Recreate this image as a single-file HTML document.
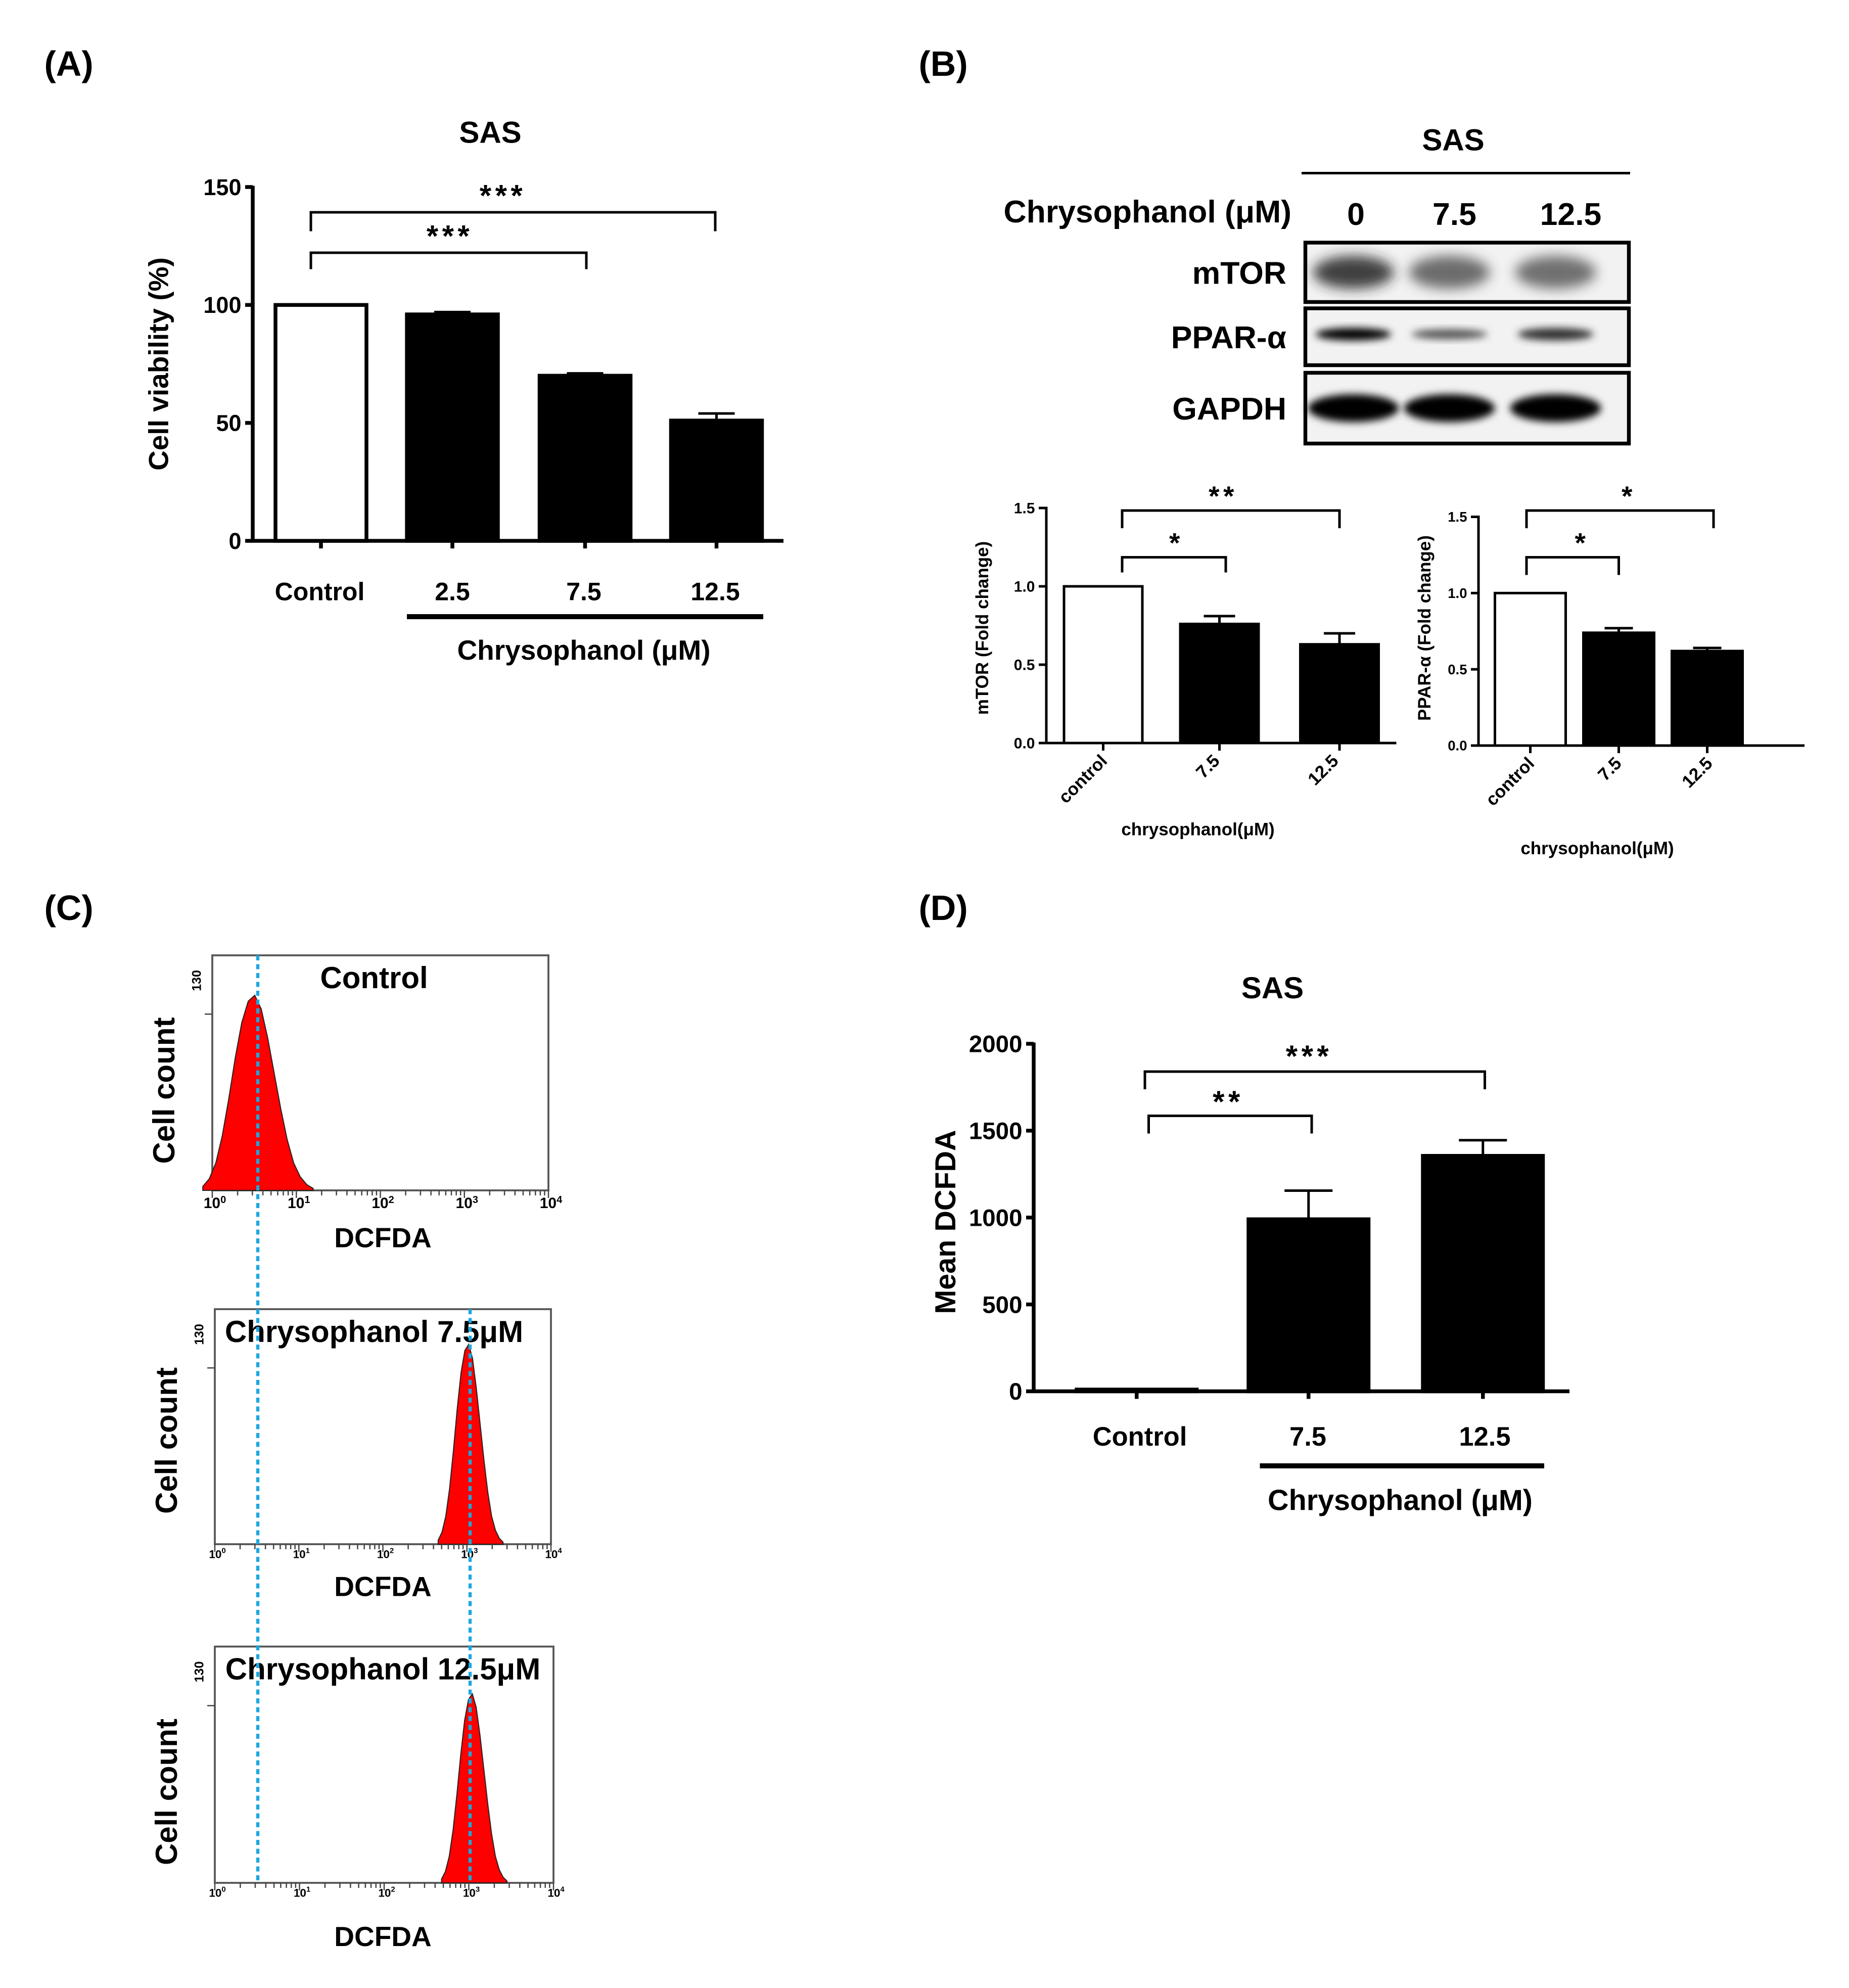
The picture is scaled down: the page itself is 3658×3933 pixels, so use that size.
<!DOCTYPE html>
<html><head><meta charset="utf-8"><style>
html,body{margin:0;padding:0;background:#fff;}
svg{display:block;}
text{font-family:"Liberation Sans",sans-serif;font-weight:bold;fill:#000;}
</style></head><body>
<svg id="fig" width="3658" height="3933" viewBox="0 0 1463.2 1573.2" xmlns="http://www.w3.org/2000/svg">
<defs>
<filter id="blur3" x="-20%" y="-50%" width="140%" height="200%"><feGaussianBlur stdDeviation="3"/></filter>
<filter id="blur5" x="-20%" y="-50%" width="140%" height="200%"><feGaussianBlur stdDeviation="5"/></filter>
</defs>
<g id="root"></g>
</svg>
<script>
// ---- Data ----
const aCategories = ["Control","2.5","7.5","12.5"];
const aValues = [100, 96, 70, 51];
const aErrors = [0, 1, 1, 3];
const aTicks = [0,50,100,150];

const mtorCategories = ["control","7.5","12.5"];
const mtorValues = [1.0, 0.76, 0.63];
const mtorErrors = [0, 0.05, 0.07];
const pparCategories = ["control","7.5","12.5"];
const pparValues = [1.0, 0.74, 0.62];
const pparErrors = [0, 0.03, 0.02];
const foldTicks = [0.0,0.5,1.0,1.5];

const dCategories = ["Control","7.5","12.5"];
const dValues = [10, 990, 1355];
const dErrors = [0, 165, 90];
const dTicks = [0,500,1000,1500,2000];

const histTitles = ["Control","Chrysophanol 7.5\u03bcM","Chrysophanol 12.5\u03bcM"];
const histPeaks = [3.2, 1050, 1100];
const histSpread = [0.17, 0.1, 0.1];
const histHeights = [0.83, 0.85, 0.80];
const histShape = [0.02,0.06,0.14,0.28,0.47,0.68,0.86,0.97,1.0,0.93,0.78,0.6,0.42,0.26,0.14,0.07,0.03,0.01];

const NS="http://www.w3.org/2000/svg";
const root=document.getElementById('root');
function mk(tag,attrs,parent){const e=document.createElementNS(NS,tag);for(const k in attrs)e.setAttribute(k,attrs[k]);(parent||root).appendChild(e);return e;}
function txt(s,x,y,size,anchor,parent,rot){const t=mk('text',{x:x,y:y,'font-size':size,'text-anchor':anchor||'middle'},parent);if(rot!==undefined)t.setAttribute('transform','rotate('+rot+' '+x+' '+y+')');t.textContent=s;return t;}
function line(x1,y1,x2,y2,w,parent,col){return mk('line',{x1:x1,y1:y1,x2:x2,y2:y2,stroke:col||'#000','stroke-width':w||2},parent);}
function bracket(x1,x2,y,drop,stars,sx,sy,size,parent){const g=mk('g',{},parent);


mk('path',{d:`M${x1} ${y+drop}V${y}H${x2}V${y+drop}`,fill:'none',stroke:'#000','stroke-width':2},g);
const t=txt(stars,sx,sy,size,'middle',g);t.setAttribute('letter-spacing','3');}

// panel labels
[["(A)",35,60],["(B)",727,60],["(C)",35,728],["(D)",727,728]].forEach(p=>{const t=txt(p[0],p[1],p[2],28,'start');

});

// generic bar chart
function barChart(o){
 const g=mk('g',{});
 
 
 const ys=v=>o.y0-(v-o.min)/(o.max-o.min)*(o.y0-o.y1);
 line(o.x0,o.y1-1,o.x0,o.y0,o.aw,g);
 line(o.x0,o.y0,o.xe,o.y0,o.aw,g);
 o.ticks.forEach(t=>{line(o.x0-6,ys(t),o.x0,ys(t),o.aw,g);const tl=txt(o.fmt(t),o.x0-9,ys(t)+o.ts*0.35,o.ts,'end',g);
 
 });
 o.vals.forEach((v,i)=>{const x=o.bx[i];const top=ys(v);
  if(o.errs[i]>0){const ey=ys(v+o.errs[i]);line(x+o.bw/2,ey,x+o.bw/2,top,2,g);line(x+o.bw*0.3,ey,x+o.bw*0.7,ey,2,g);}
  const r=mk('rect',{x:x,y:top,width:o.bw,height:Math.max(o.y0-top,1),fill:i==0?'#fff':'#000',stroke:'#000','stroke-width':o.aw},g);
  
  
  line(x+o.bw/2,o.y0,x+o.bw/2,o.y0+6,o.aw,g);
 });
 return {g:g,ys:ys};
}

// Panel A
txt("SAS",388,113,24);
const A=barChart({name:'cell-viability-chart',x0:200,xe:620,y0:428,y1:148,min:0,max:150,ticks:aTicks,fmt:t=>String(t),ts:18,aw:3,
 vals:aValues,errs:aErrors,cats:aCategories,bx:[218,322,427,531],bw:72});
aCategories.forEach((c,i)=>txt(c,[253,358,462,566][i],475,20,'middle',A.g));
line(322,488,604,488,4,A.g);
txt("Chrysophanol (\u03bcM)",462,522,22,'middle',A.g);
const ay=txt("Cell viability (%)",133,288,22,'middle',A.g,-90);


bracket(246,566,168,15,"***",398,163,24,A.g);
bracket(246,464,200,13,"***",356,195,24,A.g);

// Panel B blot
const bg=mk('g',{});


txt("SAS",1150,119,24,'middle',bg);
line(1030,137,1290,137,2,bg);
txt("Chrysophanol (\u03bcM)",1022,176,25,'end',bg);
[["0",1073],["7.5",1151],["12.5",1243]].forEach(p=>txt(p[0],p[1],178,25,'middle',bg));
const blots=[["mTOR",192,239],["PPAR-\u03b1",244,289],["GAPDH",295,351]];
blots.forEach((b,k)=>{
 const bb=mk('g',{},bg);
 
 
 txt(b[0],1018,(b[1]+b[2])/2+9,25,'end',bb);
 mk('rect',{x:1033,y:b[1],width:256,height:b[2]-b[1],fill:'#f2f2f2',stroke:'#000','stroke-width':3},bb);
 const cy=(b[1]+b[2])/2;
 const lanes=[1071,1147,1231];
 lanes.forEach((cx,i)=>{
  if(k==0){mk('ellipse',{cx:cx,cy:cy,rx:32,ry:13,fill:['#222','#555','#5a5a5a'][i],filter:'url(#blur5)',opacity:0.85},bb);}
  if(k==1){mk('ellipse',{cx:cx,cy:cy-2,rx:30,ry:[5,4,5][i],fill:['#000','#555','#333'][i],filter:'url(#blur3)'},bb);}
  if(k==2){mk('ellipse',{cx:cx,cy:cy,rx:36,ry:11,fill:'#000',filter:'url(#blur3)'},bb);}
 });
});

// mTOR chart
const M=barChart({name:'mtor-chart',x0:828,xe:1105,y0:588,y1:402,min:0,max:1.5,ticks:foldTicks,fmt:t=>t.toFixed(1),ts:12,aw:2,
 vals:mtorValues,errs:mtorErrors,cats:mtorCategories,bx:[842,934,1029],bw:62});
mtorCategories.forEach((c,i)=>txt(c,[877,966,1060][i],603,14,'end',M.g,-45));
txt("chrysophanol(\u03bcM)",948,661,14,'middle',M.g);
txt("mTOR (Fold change)",782,497,14,'middle',M.g,-90);
bracket(888,1060,404,14,"**",968,400,22,M.g);
bracket(888,970,441,12,"*",931,437,22,M.g);

// PPAR chart
const P=barChart({name:'ppar-alpha-chart',x0:1170,xe:1428,y0:590,y1:409,min:0,max:1.5,ticks:foldTicks,fmt:t=>t.toFixed(1),ts:11,aw:2,
 vals:pparValues,errs:pparErrors,cats:pparCategories,bx:[1183,1253,1323],bw:56});
pparCategories.forEach((c,i)=>txt(c,[1215,1284,1356][i],605,14,'end',P.g,-45));
txt("chrysophanol(\u03bcM)",1264,676,14,'middle',P.g);
txt("PPAR-\u03b1 (Fold change)",1132,497,14,'middle',P.g,-90);
bracket(1208,1356,404,14,"*",1289,400,22,P.g);
bracket(1208,1281,441,14,"*",1252,437,22,P.g);

// Panel C histograms
const boxes=[[168,434,756,942],[170,436,1036,1222],[170,438,1303,1490]];
const titleX=[296,296,303];
boxes.forEach((b,k)=>{
 const g=mk('g',{});
 
 
 const [x0,x1,y0,y1]=b;
 const xs=v=>x0+Math.log10(v)/4*(x1-x0);
 mk('rect',{x:x0,y:y0,width:x1-x0,height:y1-y0,fill:'#fff',stroke:'#555','stroke-width':1.5},g);
 // histogram
 const n=histShape.length;const H=(y1-y0)*histHeights[k];
 let d='';
 histShape.forEach((h,i)=>{const lv=Math.log10(histPeaks[k])+(i-8)*histSpread[k]/2.2;const x=xs(Math.pow(10,lv));const y=y1-h*H;d+=(i==0?`M${x} ${y1}L`:'L')+`${x} ${y}`;});
 const lastLv=Math.log10(histPeaks[k])+(n-1-8)*histSpread[k]/2.2;
 d+=`L${xs(Math.pow(10,lastLv))} ${y1}Z`;
 const p=mk('path',{d:d,fill:'#ff0000',stroke:'#222','stroke-width':0.8},g);
 
 
 // ticks
 for(let dec=0;dec<4;dec++)for(let m=1;m<10;m++){const x=xs(m*Math.pow(10,dec));line(x,y1,x,y1+(m==1?6:4),1,g,'#444');}
 line(x1,y1,x1,y1+6,1,g,'#444');
 for(let dec=0;dec<=4;dec++){const t=mk('text',{x:xs(Math.pow(10,dec))+2,y:y1+(k==0?14:11),'font-size':k==0?12:9,'text-anchor':'middle','font-weight':'normal'},g);t.textContent='10';const s=mk('tspan',{dy:-4,'font-size':k==0?8:6},t);s.textContent=String(dec);}
 line(x0-6,y0+(y1-y0)*0.25,x0,y0+(y1-y0)*0.25,1,g,'#444');
 txt("130",x0-9,y0+20,10,'middle',g,-90).setAttribute('font-weight','normal');
 txt(histTitles[k],titleX[k],y0+26,24,'middle',g);
 txt("Cell count",k==0?138:140,[863,1140,1418][k],24,'middle',g,-90);
 txt("DCFDA",303,[987,1263,1540][k],22,'middle',g);
});
// dotted reference lines
const l1=line(204,756,204,1490,2.5,null,'#1aa7e0');l1.setAttribute('stroke-dasharray','4 3');


const l2=line(372,1036,372,1490,2.5,null,'#1aa7e0');l2.setAttribute('stroke-dasharray','4 3');



// Panel D
txt("SAS",1007,790,24);
const D=barChart({name:'mean-dcfda-chart',x0:818,xe:1242,y0:1101,y1:826,min:0,max:2000,ticks:dTicks,fmt:t=>String(t),ts:19,aw:3,
 vals:dValues,errs:dErrors,cats:dCategories,bx:[852,988,1126],bw:95});
dCategories.forEach((c,i)=>txt(c,[902,1035,1175][i],1144,21,'middle',D.g));
line(997,1160,1222,1160,4,D.g);
txt("Chrysophanol (\u03bcM)",1108,1195,23,'middle',D.g);
txt("Mean DCFDA",756,967,23,'middle',D.g,-90);
bracket(906,1175,848,14,"***",1036,844,24,D.g);
bracket(909,1038,883,14,"**",972,880,24,D.g);
</script>
</body></html>
